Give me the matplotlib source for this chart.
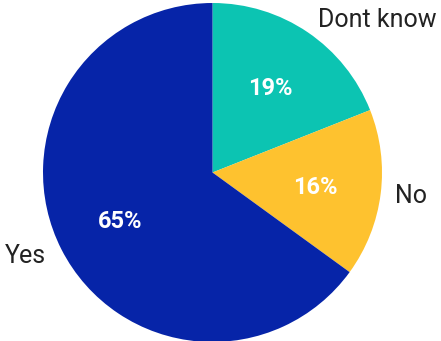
import matplotlib
matplotlib.use("Agg")
import matplotlib.pyplot as plt

categories = ["Dont know", "No", "Yes"]
shares = [19, 16, 65]
colors = ["#0CC4B2", "#FEC22F", "#0624A8"]

W, H = 441, 341
fig = plt.figure(figsize=(W / 100, H / 100), dpi=100)
ax = fig.add_axes([0, 0, 1, 1])
ax.axis("off")

cx, cy, r = 212.5, H - 172.5, 169.5
pct_size = 17
wedges, texts, autotexts = ax.pie(
    shares, colors=colors, startangle=90, counterclock=False,
    center=(cx, cy), radius=r, autopct="%d%%", pctdistance=0.61,
    wedgeprops=dict(linewidth=0),
    textprops=dict(color="white", fontsize=pct_size, fontweight="bold", family="Roboto"),
)
ax.set_xlim(0, W)
ax.set_ylim(0, H)
ax.set_aspect("equal")

# put the percentage digits' visual centre on the pctdistance point
cap_half = pct_size * 100 / 72 * 0.711 / 2
for t in autotexts:
    x, y = t.get_position()
    t.set_position((x, y - cap_half))
    t.set_va("baseline")

# category labels (baseline positions, pixel coords from top)
label_pos = {"Dont know": (377, 27), "No": (411, 203), "Yes": (25, 263)}
for name in categories:
    x, y = label_pos[name]
    ax.text(x, H - y, name, ha="center", va="baseline", fontsize=18,
            color="#222222", family="Roboto")

fig.savefig("out.png", dpi=100)
